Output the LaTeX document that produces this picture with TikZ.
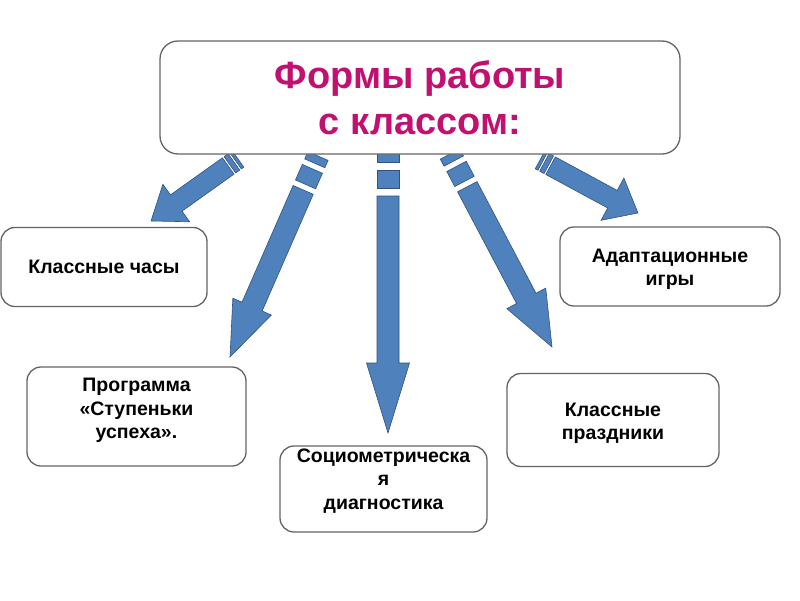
\documentclass[tikz,border=0pt]{standalone}
\usepackage{fontspec}
\setmainfont{Liberation Sans}
\usetikzlibrary{calc}
\definecolor{titlecol}{RGB}{194,16,112}
\definecolor{arrfill}{RGB}{79,129,189}
\definecolor{arrline}{RGB}{48,82,125}
\definecolor{boxline}{RGB}{100,100,100}
\tikzset{
  box/.style={draw=boxline, line width=1.3pt, rounded corners=14pt, fill=white, inner sep=0pt},
  lbl/.style={font=\fontsize{19.5}{23.5}\selectfont\bfseries, align=center, text=black},
  arr/.style={fill=arrfill, draw=arrline, line width=0.6pt, line join=miter},
}
% striped block arrow: #1 tail, #2 tip, #3 shaft half width, #4 head half width,
% #5 head length, #6 stripe1, #7 gap, #8 stripe2
\newcommand\stripedarrow[8]{%
  \pgfpointdiff{\pgfpointanchor{#1}{center}}{\pgfpointanchor{#2}{center}}%
  \pgfgetlastxy{\sdx}{\sdy}%
  \pgfmathsetmacro\sang{atan2(\sdy,\sdx)}%
  \pgfmathsetmacro\slen{veclen(\sdx,\sdy)}%
  \pgfmathsetmacro\sa{#6}%
  \pgfmathsetmacro\sb{#6+#7}%
  \pgfmathsetmacro\sc{#6+#7+#8}%
  \pgfmathsetmacro\sd{#6+#7+#8+#7}%
  \pgfmathsetmacro\se{\slen-#5}%
  \begin{scope}[shift={(#1)}, rotate=\sang, x=1pt, y=1pt]
    \draw[arr] (0,-#3) rectangle (\sa,#3);
    \draw[arr] (\sb,-#3) rectangle (\sc,#3);
    \draw[arr] (\sd,-#3) -- (\se,-#3) -- (\se,-#4) -- (\slen,0) -- (\se,#4) -- (\se,#3) -- (\sd,#3) -- cycle;
  \end{scope}%
}
\begin{document}
\begin{tikzpicture}[x=1pt, y=-1pt]
\useasboundingbox (0,0) rectangle (800,600);
\fill[white] (0,0) rectangle (800,600);

% arrow end points
\coordinate (t1) at (238,159); \coordinate (h1) at (151,221);
\coordinate (t2) at (318,156); \coordinate (h2) at (230,357);
\coordinate (t3) at (388,153); \coordinate (h3) at (388,433);
\coordinate (t4) at (450,154); \coordinate (h4) at (552,347);
\coordinate (t5) at (540,160); \coordinate (h5) at (638,213);

\stripedarrow{t1}{h1}{10}{23}{31}{3}{2}{5}
\stripedarrow{t2}{h2}{11}{21}{55}{8}{6}{17}
\stripedarrow{t3}{h3}{11}{21.5}{70}{9}{8}{18}
\stripedarrow{t4}{h4}{11}{22}{55}{8}{6}{17}
\stripedarrow{t5}{h5}{10}{24}{29}{3}{2}{5}

% title box
\node[box, rounded corners=18pt, minimum width=520, minimum height=113,
      font=\fontsize{38}{46}\selectfont\bfseries, text=titlecol, align=center]
  (title) at (420,97.5) {Формы работы\\ с классом:};

% leaf boxes
\node[box, lbl, minimum width=206, minimum height=79] (chasy) at (104,267) {Классные часы};
\node[box, minimum width=220, minimum height=79] (igry) at (670,266.5) {};
\node[lbl] (igrytext) at (670,269.5) {Адаптационные\\игры};
\node[box, minimum width=219, minimum height=99] (prog) at (136.5,416.5) {};
\node[lbl] (progtext) at (136.5,410.5) {Программа\\«Ступеньки\\успеха».};
\node[box, minimum width=212, minimum height=93] (prazd) at (613,420) {};
\node[lbl] (prazdtext) at (613,423.5) {Классные\\праздники};
\node[box, minimum width=207, minimum height=86] (socio) at (383.5,489) {};
\node[lbl] (sociotext) at (383.5,481) {Социометрическа\\я\\диагностика};
\end{tikzpicture}
\end{document}
